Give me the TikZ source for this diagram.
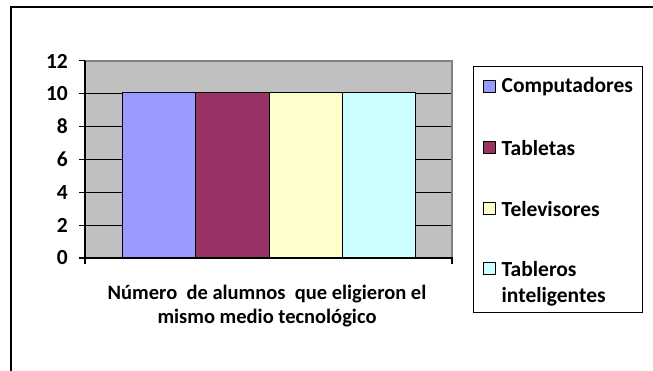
\documentclass[tikz,border=0pt]{standalone}
\usepackage{fontspec}
\setmainfont{Carlito}
\usetikzlibrary{positioning}
\definecolor{barblue}{HTML}{9999FF}
\definecolor{barwine}{HTML}{993366}
\definecolor{baryellow}{HTML}{FFFFCC}
\definecolor{barcyan}{HTML}{CCFFFF}
\definecolor{wallgray}{HTML}{C0C0C0}
\definecolor{edgegray}{HTML}{808080}
\tikzset{
  chartfont/.style={font=\fontsize{20.5}{24}\selectfont\bfseries},
  legfont/.style={font=\fontsize{21.5}{24}\selectfont\bfseries},
  bar/.style={draw=black,line width=1pt},
  legkey/.style={draw=black,line width=1pt,minimum size=12pt,inner sep=0pt},
}

\begin{document}
\begin{tikzpicture}[x=1pt,y=-1pt]
    \useasboundingbox (0,0) rectangle (653,371);
    % frame
    \draw[line width=2pt] (11,371) -- (11,7) -- (653,7);
    % plot wall and grid
    \fill[wallgray] (85,61) rectangle (452,258);
    \foreach \v in {2,4,...,12} {
        \draw[line width=1pt] (79,258-16.42*\v) -- (452,258-16.42*\v);
    }
    \draw[edgegray,line width=2pt] (85,61) -- (452,61) -- (452,258);
    % bars
    \draw[bar,fill=barblue] (122,258) rectangle (195,93);
    \draw[bar,fill=barwine] (195,258) rectangle (269,93);
    \draw[bar,fill=baryellow] (269,258) rectangle (342,93);
    \draw[bar,fill=barcyan] (342,258) rectangle (415,93);
    % axes
    \draw[line width=1.2pt] (85,61) -- (85,264);
    \draw[line width=1.2pt] (79,258) -- (452,258) -- (452,264);
    \foreach \v in {0,2,...,12} {
        \node[legfont,anchor=east,inner sep=0pt] (y\v) at (68,258-16.42*\v) {\v};
    }
    % axis title
    \node[chartfont,align=center,inner sep=0pt] (xlab) at (267,306)
        {Número\ \ de alumnos\ \ que eligieron el\\mismo medio tecnológico};
    % legend
    \draw[line width=1pt] (473,67) rectangle (642,312);
    \node[legkey,fill=barblue] (k1) at (489,87) {};
    \node[legkey,fill=barwine] (k2) at (489,148) {};
    \node[legkey,fill=baryellow] (k3) at (489,209) {};
    \node[legkey,fill=barcyan] (k4) at (489,269) {};
    \node[legfont,anchor=west,inner sep=0pt,right=6pt of k1] (l1) {Computadores};
    \node[legfont,anchor=west,inner sep=0pt,right=6pt of k2] (l2) {Tabletas};
    \node[legfont,anchor=west,inner sep=0pt,right=6pt of k3] (l3) {Televisores};
    \node[legfont,anchor=west,inner sep=0pt,right=6pt of k4] (l4) {Tableros};
    \node[legfont,anchor=base west,inner sep=0pt] (l5) at ([yshift=-26pt]l4.base west) {inteligentes};
\end{tikzpicture}
\end{document}
